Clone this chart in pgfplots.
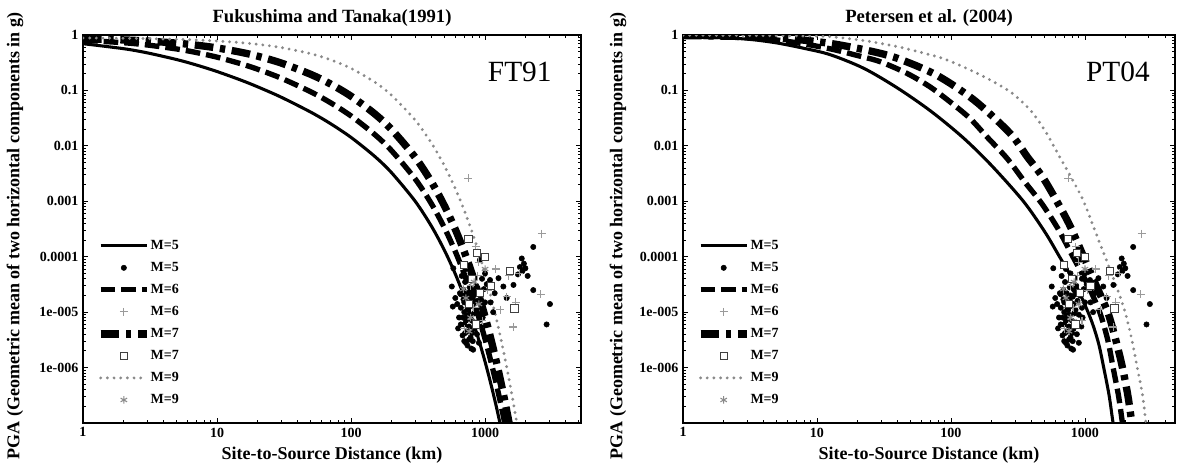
\documentclass[border=0pt]{standalone}
\usepackage{fontspec}
\setmainfont{Liberation Serif}
\usepackage{pgfplots}
\usepackage{pgfplotstable}
\pgfplotsset{compat=1.18}
\definecolor{dotgray}{HTML}{8A8A8A}
\definecolor{plusgray}{HTML}{9A9A9A}

% observed records (same in both panels)
\pgfplotstableread{
x y
2290 1.5e-4
1880 9.3e-5
1950 7.5e-5
1820 6.5e-5
1900 5.5e-5
2000 6.2e-5
1760 4.8e-5
2080 4.5e-5
2290 2.5e-5
3050 1.4e-5
2880 6.0e-6
1630 3.1e-5
1370 2.9e-5
1260 4.1e-5
1090 3.8e-5
1180 2.2e-5
1450 1.8e-5
1150 1.0e-5
565 2.9e-5
575 1.26e-5
580 6.2e-5
630 5.1e-6
600 1.8e-5
650 2.2e-5
815 2.1e-6
915 8.7e-5
660 1.2e-5
680 8.0e-6
700 6.0e-6
720 1.5e-5
740 4.5e-6
760 9.0e-6
780 3.5e-6
800 7.0e-6
820 5.0e-6
850 1.1e-5
870 4.0e-6
900 2.8e-6
690 2.5e-5
710 3.5e-5
730 2.2e-5
750 1.8e-5
770 2.8e-5
790 1.3e-5
810 1.9e-5
830 2.5e-5
860 3.0e-5
880 1.6e-5
920 2.0e-5
950 1.2e-5
980 2.6e-5
1000 1.5e-5
1030 3.2e-5
670 4.5e-5
720 6.0e-5
780 5.0e-5
840 4.2e-5
700 3.0e-6
740 2.5e-6
760 5.5e-6
790 2.2e-6
680 3.8e-6
720 7.0e-6
750 1.1e-5
700 1.0e-5
660 6.0e-6
640 8.0e-6
620 1.4e-5
860 6.5e-6
900 9.0e-6
940 5.5e-6
960 8.0e-6
710 4.2e-6
730 8.5e-6
770 1.6e-5
800 4.2e-6
830 9.5e-6
850 2.1e-5
690 1.7e-5
660 2.1e-5
1000 5.0e-5
950 4.0e-5
1100 1.5e-5
760 3.2e-6
810 3.0e-6
740 1.2e-5
700 1.5e-5
780 2.0e-5
820 1.4e-5
720 2.8e-6
}\obsfive
\pgfplotstableread{
x y
750 2.6e-3
2650 2.6e-4
2600 2.1e-5
1630 5.4e-6
1450 1.9e-5
1700 1.5e-5
850 1.5e-4
900 8.0e-5
780 3.0e-5
820 1.2e-5
950 7.0e-6
1050 2.5e-5
1200 6.0e-5
1300 1.1e-5
1500 4.5e-5
700 5.0e-6
880 4.5e-5
1800 5.0e-5
}\obssix
\pgfplotstableread{
x y
751 2.1e-4
870 1.15e-4
1000 1.0e-4
1540 5.6e-5
1660 1.17e-5
800 4.0e-5
920 2.2e-5
760 1.4e-5
850 6.0e-6
1100 3.0e-5
700 7.0e-5
}\obsseven
\pgfplotstableread{
x y
720 1.8e-5
780 8.0e-6
830 3.5e-5
900 1.4e-5
760 4.5e-6
690 2.6e-5
1000 6.0e-5
}\obsnine

\pgfplotsset{
  lfive/.style={black, line width=2.3pt, solid, smooth, no markers},
  pfive/.style={only marks, mark=*, mark size=2pt, black},
  lsix/.style={black, line width=4pt, dash pattern=on 11pt off 4.5pt, smooth, no markers},
  psix/.style={only marks, mark=+, mark size=3pt, plusgray, mark options={line width=0.8pt}},
  lseven/.style={black, line width=5.5pt, dash pattern=on 14pt off 5pt on 4pt off 5pt, smooth, no markers},
  pseven/.style={only marks, mark=square*, mark size=2.7pt, mark options={draw=black!75, fill=white, line width=0.7pt}},
  lnine/.style={dotgray, line width=2.4pt, line cap=round, dash pattern=on 0pt off 5pt, smooth, no markers},
  pnine/.style={only marks, mark=asterisk, mark size=2.8pt, dotgray, mark options={line width=0.8pt}},
  every axis/.append style={
    scale only axis, height=291pt,
    xmin=1, ymin=1e-7, ymax=1,
    xtick={1,10,100,1000}, xticklabels={1,10,100,1000},
    minor xtick={2,3,4,5,6,7,8,9,20,30,40,50,60,70,80,90,200,300,400,500,600,700,800,900,2000,3000,4000,5000},
    ytick={1,0.1,0.01,0.001,0.0001,1e-5,1e-6},
    yticklabels={1,0.1,0.01,0.001,0.0001,1e-005,1e-006},
    minor ytick={2e-7,3e-7,4e-7,5e-7,6e-7,7e-7,8e-7,9e-7,
      2e-6,3e-6,4e-6,5e-6,6e-6,7e-6,8e-6,9e-6,
      2e-5,3e-5,4e-5,5e-5,6e-5,7e-5,8e-5,9e-5,
      2e-4,3e-4,4e-4,5e-4,6e-4,7e-4,8e-4,9e-4,
      0.002,0.003,0.004,0.005,0.006,0.007,0.008,0.009,
      0.02,0.03,0.04,0.05,0.06,0.07,0.08,0.09,
      0.2,0.3,0.4,0.5,0.6,0.7,0.8,0.9},
    tick align=inside, major tick length=4pt, minor tick length=2.2pt,
    tick style={line width=0.6pt, black},
    axis line style={line width=0.9pt},
    tick label style={font=\fontsize{10.5}{12}\selectfont\bfseries},
    label style={font=\fontsize{13.5}{15}\selectfont\bfseries},
    xlabel={Site-to-Source Distance (km)},
    ylabel={PGA (Geometric mean of two horizontal components in g)},
    xlabel style={at={(axis description cs:0.5,-0.082)}, anchor=center},
    title style={font=\fontsize{14}{16}\selectfont\bfseries, at={(axis description cs:0.5,1.031)}, anchor=base, yshift=-6pt},
    legend style={at={(axis description cs:0.025,0.482)}, anchor=north west, draw=none, fill=none,
      font=\fontsize{10.5}{12}\selectfont\bfseries, row sep=4.1pt, inner sep=1pt,
      /tikz/every odd column/.append style={column sep=-2pt}},
    legend cell align=left,
  },
}

\begin{document}
\begin{tikzpicture}
\useasboundingbox (0,0) rectangle (883.5pt,354pt);
% ---------------- left panel: FT91 ----------------
\begin{loglogaxis}[at={(62.25pt,36.75pt)}, anchor=south west, width=373.5pt, xmax=5200,
  title={Fukushima and Tanaka(1991)},
  ylabel style={at={(axis description cs:-0.1365,0.482)}, anchor=center},
  legend image code/.code={\draw[mark repeat=2,mark phase=2,#1] plot coordinates {(0cm,0cm) (0.61cm,0cm) (1.22cm,0cm)};}]
\addplot[lfive] table {
1 0.697
2 0.5676
3 0.4777
5 0.3607
7 0.2881
10 0.2194
15 0.1542
20 0.1168
30 0.07588
50 0.04066
70 0.02532
100 0.01422
150 0.006484
200 0.003308
300 0.001014
400 3.487e-4
500 1.277e-4
600 4.872e-5
700 1.91e-5
800 7.64e-6
900 3.107e-6
1000 1.279e-6
1100 5.316e-7
1200 2.228e-7
1300 9.4e-8
};
\addlegendentry{M=5}
\addplot[pfive] table {\obsfive};
\addlegendentry{M=5}
\addplot[lsix] table {
1 0.8035
2 0.7263
3 0.6616
5 0.5598
7 0.4832
10 0.3984
15 0.3040
20 0.2424
30 0.167
50 0.09458
70 0.06044
100 0.03467
150 0.01608
200 0.008274
300 0.002559
400 8.839e-4
500 3.246e-4
600 1.240e-4
700 4.87e-5
800 1.951e-5
900 7.93e-6
1000 3.268e-6
1100 1.359e-6
1200 5.699e-7
1300 2.405e-7
1400 1.021e-7
1500 4.36e-8
};
\addlegendentry{M=6}
\addplot[psix] table {\obssix};
\addlegendentry{M=6}
\addplot[lseven] table {
1 0.855
2 0.8155
3 0.7787
5 0.7135
7 0.6566
10 0.5843
15 0.4892
20 0.4166
30 0.3134
50 0.1953
70 0.1314
100 0.07867
150 0.03790
200 0.01989
300 0.006281
400 0.002194
500 8.11e-4
600 3.113e-4
700 1.227e-4
800 4.927e-5
900 2.009e-5
1000 8.28e-6
1100 3.449e-6
1200 1.447e-6
1300 6.115e-7
1400 2.6e-7
1500 1.110e-7
1600 4.76e-8
};
\addlegendentry{M=7}
\addplot[pseven] table {\obsseven};
\addlegendentry{M=7}
\addplot[lnine] table {
1 0.885
2 0.8727
3 0.8605
5 0.8367
7 0.8137
10 0.7805
15 0.7288
20 0.6809
30 0.5958
50 0.4603
70 0.3588
100 0.2506
150 0.1418
200 0.08241
300 0.02942
400 0.01103
500 0.004275
600 0.001696
700 6.847e-4
800 2.803e-4
900 1.160e-4
1000 4.843e-5
1100 2.037e-5
1200 8.625e-6
1300 3.672e-6
1400 1.571e-6
1500 6.745e-7
1600 2.908e-7
1700 1.258e-7
1800 5.455e-8
};
\addlegendentry{M=9}
\addplot[pnine] table {\obsnine};
\addlegendentry{M=9}
\node[font=\fontsize{22}{24}\selectfont] at (axis description cs:0.877,0.905) {FT91};
\end{loglogaxis}
% ---------------- right panel: PT04 ----------------
\begin{loglogaxis}[at={(512.25pt,36.75pt)}, anchor=south west, width=369pt, xmax=4700,
  title={Petersen et al. (2004)},
  ylabel style={at={(axis description cs:-0.132,0.482)}, anchor=center},
  legend image code/.code={\draw[mark repeat=2,mark phase=2,#1] plot coordinates {(0cm,0cm) (0.61cm,0cm) (1.22cm,0cm)};}]
\addplot[lfive] table {
1 0.91
2 0.89
3.2 0.83
5 0.72
8 0.575
12.6 0.44
22.4 0.25
40 0.11
71 0.042
123 0.0141
200 0.00447
347 0.001
501 2.82e-4
646 1e-4
851 3.16e-5
1096 7.94e-6
1259 2.82e-6
1380 1e-6
1514 3.16e-7
1622 1e-7
1740 4e-8
};
\addlegendentry{M=5}
\addplot[pfive] table {\obsfive};
\addlegendentry{M=5}
\addplot[lsix] table {
1 0.955
2 0.933
3.2 0.891
5 0.813
8 0.692
12.6 0.562
20 0.427
29.5 0.331
46.8 0.204
69.2 0.1175
97.7 0.0631
138 0.0316
186 0.01445
263 0.00589
355 0.00224
479 8.91e-4
631 3.16e-4
813 1e-4
1047 3.16e-5
1288 1e-5
1479 3.16e-6
1622 1e-6
1778 3.16e-7
1905 1e-7
2042 3.16e-8
};
\addlegendentry{M=6}
\addplot[psix] table {\obssix};
\addlegendentry{M=6}
\addplot[lseven] table {
1 0.977
3.2 0.933
6.3 0.851
10 0.759
14.8 0.661
25.1 0.513
39.8 0.38
77.6 0.1905
148 0.0676
275 0.017
372 0.0063
479 0.00282
617 0.001
776 3.55e-4
977 1e-4
1202 3.16e-5
1479 1e-5
1698 3.16e-6
1905 1e-6
2089 3.16e-7
2239 1e-7
2399 3.16e-8
};
\addlegendentry{M=7}
\addplot[pseven] table {\obsseven};
\addlegendentry{M=7}
\addplot[lnine] table {
1 0.99
3.2 0.977
10 0.955
12.6 0.933
22.4 0.794
39.8 0.617
63.1 0.468
93.3 0.355
166 0.1905
275 0.0955
389 0.0447
501 0.0191
631 0.00708
794 0.00263
977 0.001
1175 3.16e-4
1413 1e-4
1698 3.16e-5
1995 1e-5
2239 3.16e-6
2455 1e-6
2692 3.16e-7
2851 1e-7
3020 3.16e-8
};
\addlegendentry{M=9}
\addplot[pnine] table {\obsnine};
\addlegendentry{M=9}
\node[font=\fontsize{22}{24}\selectfont] at (axis description cs:0.884,0.905) {PT04};
\end{loglogaxis}
\end{tikzpicture}
\end{document}
